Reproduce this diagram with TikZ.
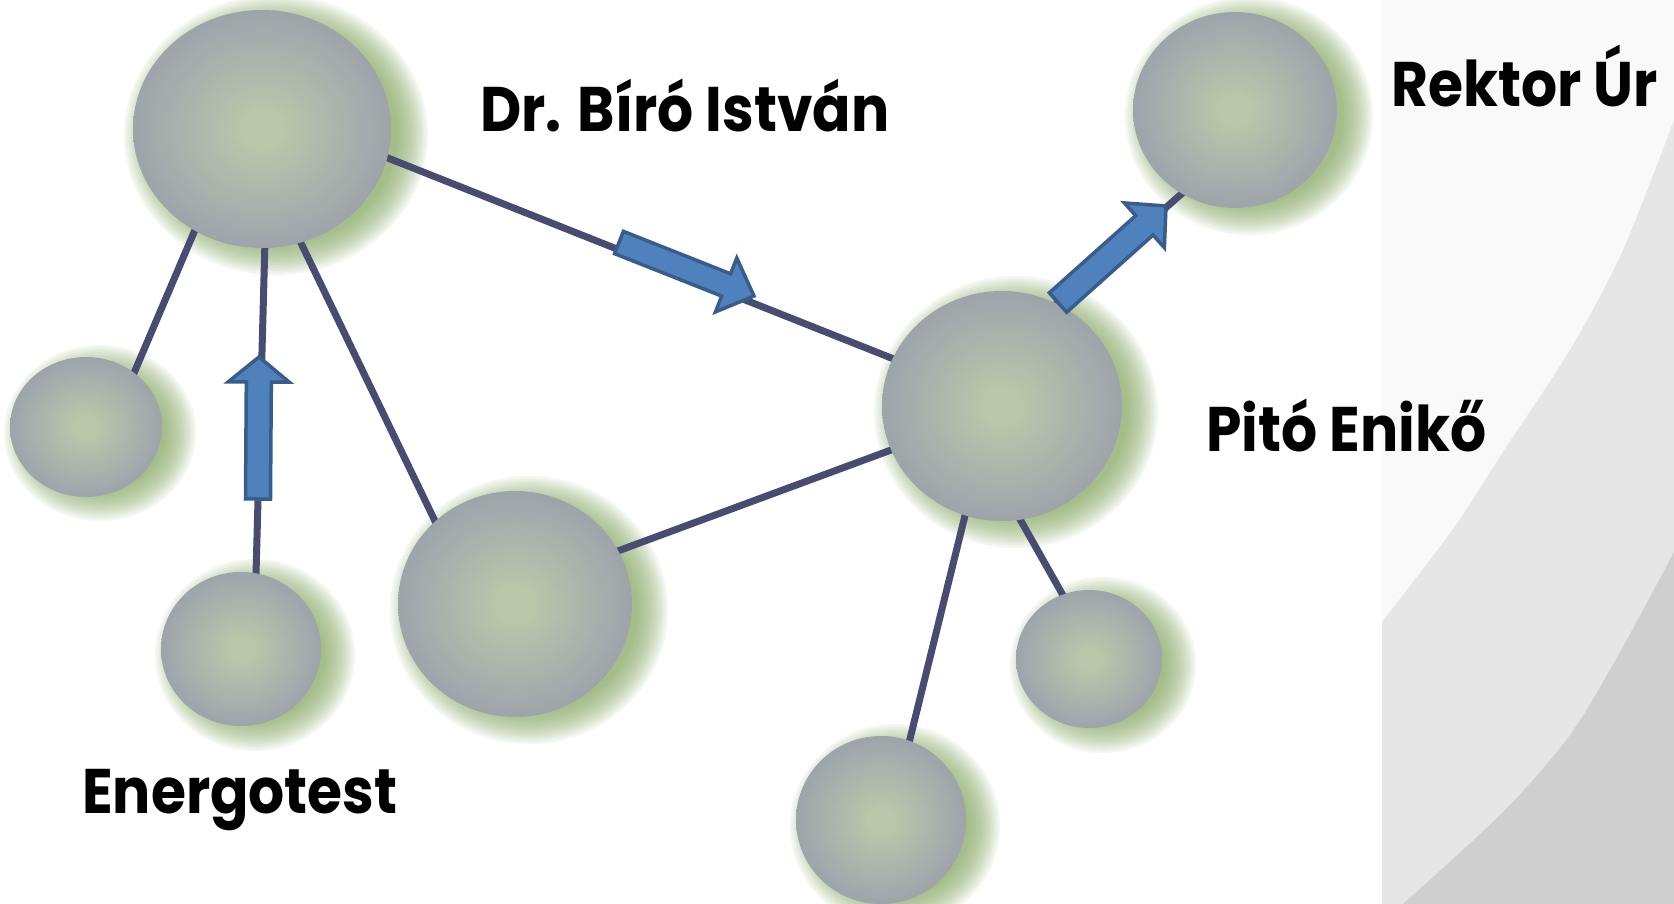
\documentclass[tikz,border=0pt]{standalone}
\usepackage{fontspec}
\setmainfont{Poppins}[FakeStretch=0.9]
\usetikzlibrary{calc,shapes.geometric}
\definecolor{sphC}{RGB}{186,197,170}
\definecolor{sphM}{RGB}{164,172,172}
\definecolor{sphE}{RGB}{138,145,168}
\definecolor{glowC}{RGB}{135,170,100}
\definecolor{edgeC}{RGB}{72,76,112}
\definecolor{arrF}{RGB}{79,129,189}
\definecolor{arrD}{RGB}{56,93,138}
\definecolor{pan1}{RGB}{249,249,249}
\definecolor{pan2}{RGB}{230,230,230}
\definecolor{pan3}{RGB}{207,207,207}
\pgfdeclareradialshading{sphsh}{\pgfpoint{0bp}{0bp}}{color(0bp)=(sphC); color(4bp)=(sphC); color(20bp)=(sphM); color(38bp)=(sphE); color(50bp)=(sphE)}
\pgfdeclarelayer{bglayer}
\pgfdeclarelayer{glowlayer}
\pgfdeclarelayer{edgelayer}
\pgfsetlayers{bglayer,glowlayer,edgelayer,main}
\tikzset{
  sphere/.style={ellipse, inner sep=0pt, shade, shading=sphsh},
  link/.style={draw=edgeC, line width=7pt},
  bigarrow/.style={fill=arrF, draw=arrD, line width=3.5pt, line join=miter},
  lbl/.style={inner sep=0pt, font=\fontsize{63}{70}\selectfont\bfseries, text=black},
  glowring/.style={fill=glowC, opacity=0.09}
}
\newcommand{\glowat}[3]{%
  \foreach \k in {0,...,13}{\fill[glowring] ($(#1)+(14,6)$) ellipse [x radius={#2-2.4*\k}, y radius={#3-2.4*\k}];}}
\newcommand{\fatarrow}[5]{%
  \draw[bigarrow] ($(#1)!#3!90:(#2)$) -- ($(#2)!#5!(#1)!#3!-90:(#1)$) -- ($(#2)!#5!(#1)!#4!-90:(#1)$) -- (#2)
   -- ($(#2)!#5!(#1)!#4!90:(#1)$) -- ($(#2)!#5!(#1)!#3!90:(#1)$) -- ($(#1)!#3!-90:(#2)$) -- cycle;}
\begin{document}
\begin{tikzpicture}[x=1pt,y=-1pt]
\useasboundingbox (0,0) rectangle (1674,904);
\clip (0,0) rectangle (1674,904);
% spheres
\node[sphere, minimum width=258pt, minimum height=238pt] (A) at (262,129) {};
\node[sphere, minimum width=152pt, minimum height=140pt] (B) at (86,427) {};
\node[sphere, minimum width=160pt, minimum height=154pt] (C) at (241,649) {};
\node[sphere, minimum width=234pt, minimum height=226pt] (D) at (515,604) {};
\node[sphere, minimum width=240pt, minimum height=230pt] (E) at (1002,406) {};
\node[sphere, minimum width=204pt, minimum height=196pt] (F) at (1235,110) {};
\node[sphere, minimum width=146pt, minimum height=138pt] (G) at (1089,659) {};
\node[sphere, minimum width=170pt, minimum height=168pt] (H) at (881,820) {};
% background panel
\begin{pgfonlayer}{bglayer}
\fill[white] (0,0) rectangle (1674,904);
\fill[pan1] (1382,0) rectangle (1674,904);
\fill[pan2] plot[smooth] coordinates {(1674,120) (1623,250) (1570,350) (1503,452) (1453,529) (1382,622)} -- (1382,904) -- (1674,904) -- cycle;
\fill[pan3] plot[smooth] coordinates {(1674,552) (1620,652) (1570,735) (1503,812) (1403,904)} -- (1674,904) -- cycle;
\end{pgfonlayer}
% glows
\begin{pgfonlayer}{glowlayer}
\glowat{A}{152}{140}
\glowat{B}{96}{88}
\glowat{C}{100}{96}
\glowat{D}{139}{134}
\glowat{E}{142}{136}
\glowat{F}{124}{119}
\glowat{G}{93}{88}
\glowat{H}{105}{102}
\end{pgfonlayer}
% connectors
\begin{pgfonlayer}{edgelayer}
\draw[link] ($(A)+(-24,0)$) -- ($(B)+(25,0)$);
\draw[link] ($(A)+(6,0)$) -- ($(C)+(13,0)$);
\draw[link] ($(A)+(-16,0)$) -- ($(D)+(-40,0)$);
\draw[link] ($(A)+(0,-21)$) -- ($(E)+(0,-4)$);
\draw[link] ($(D)+(0,-15)$) -- ($(E)+(0,3)$);
\draw[link] ($(E)+(-8,-47)$) -- ($(F)+(19,20)$);
\draw[link] ($(E)+(-46,0)$) -- ($(G)+(10,0)$);
\draw[link] ($(E)+(-10,0)$) -- ($(H)+(9,0)$);
\end{pgfonlayer}
% big arrows
\coordinate (a1s) at (619,242.5);
\coordinate (a1e) at (754,296);
\coordinate (a2s) at (258,499);
\coordinate (a2e) at (259,357);
\coordinate (a3s) at (1058,302.5);
\coordinate (a3e) at (1166,206);
\fatarrow{a1s}{a1e}{12pt}{29pt}{30pt}
\fatarrow{a2s}{a2e}{12.5pt}{30.5pt}{25pt}
\fatarrow{a3s}{a3e}{13pt}{30pt}{29pt}
% labels
\node[lbl, anchor=base west] (t1) at (480,132) {Dr. Bíró István};
\node[lbl, anchor=base west] (t2) at (1391,107) {Rektor Úr};
\node[lbl, anchor=base west] (t3) at (1206,451) {Pitó Enikő};
\node[lbl, anchor=base west] (t4) at (82,813) {Energotest};
\end{tikzpicture}
\end{document}
